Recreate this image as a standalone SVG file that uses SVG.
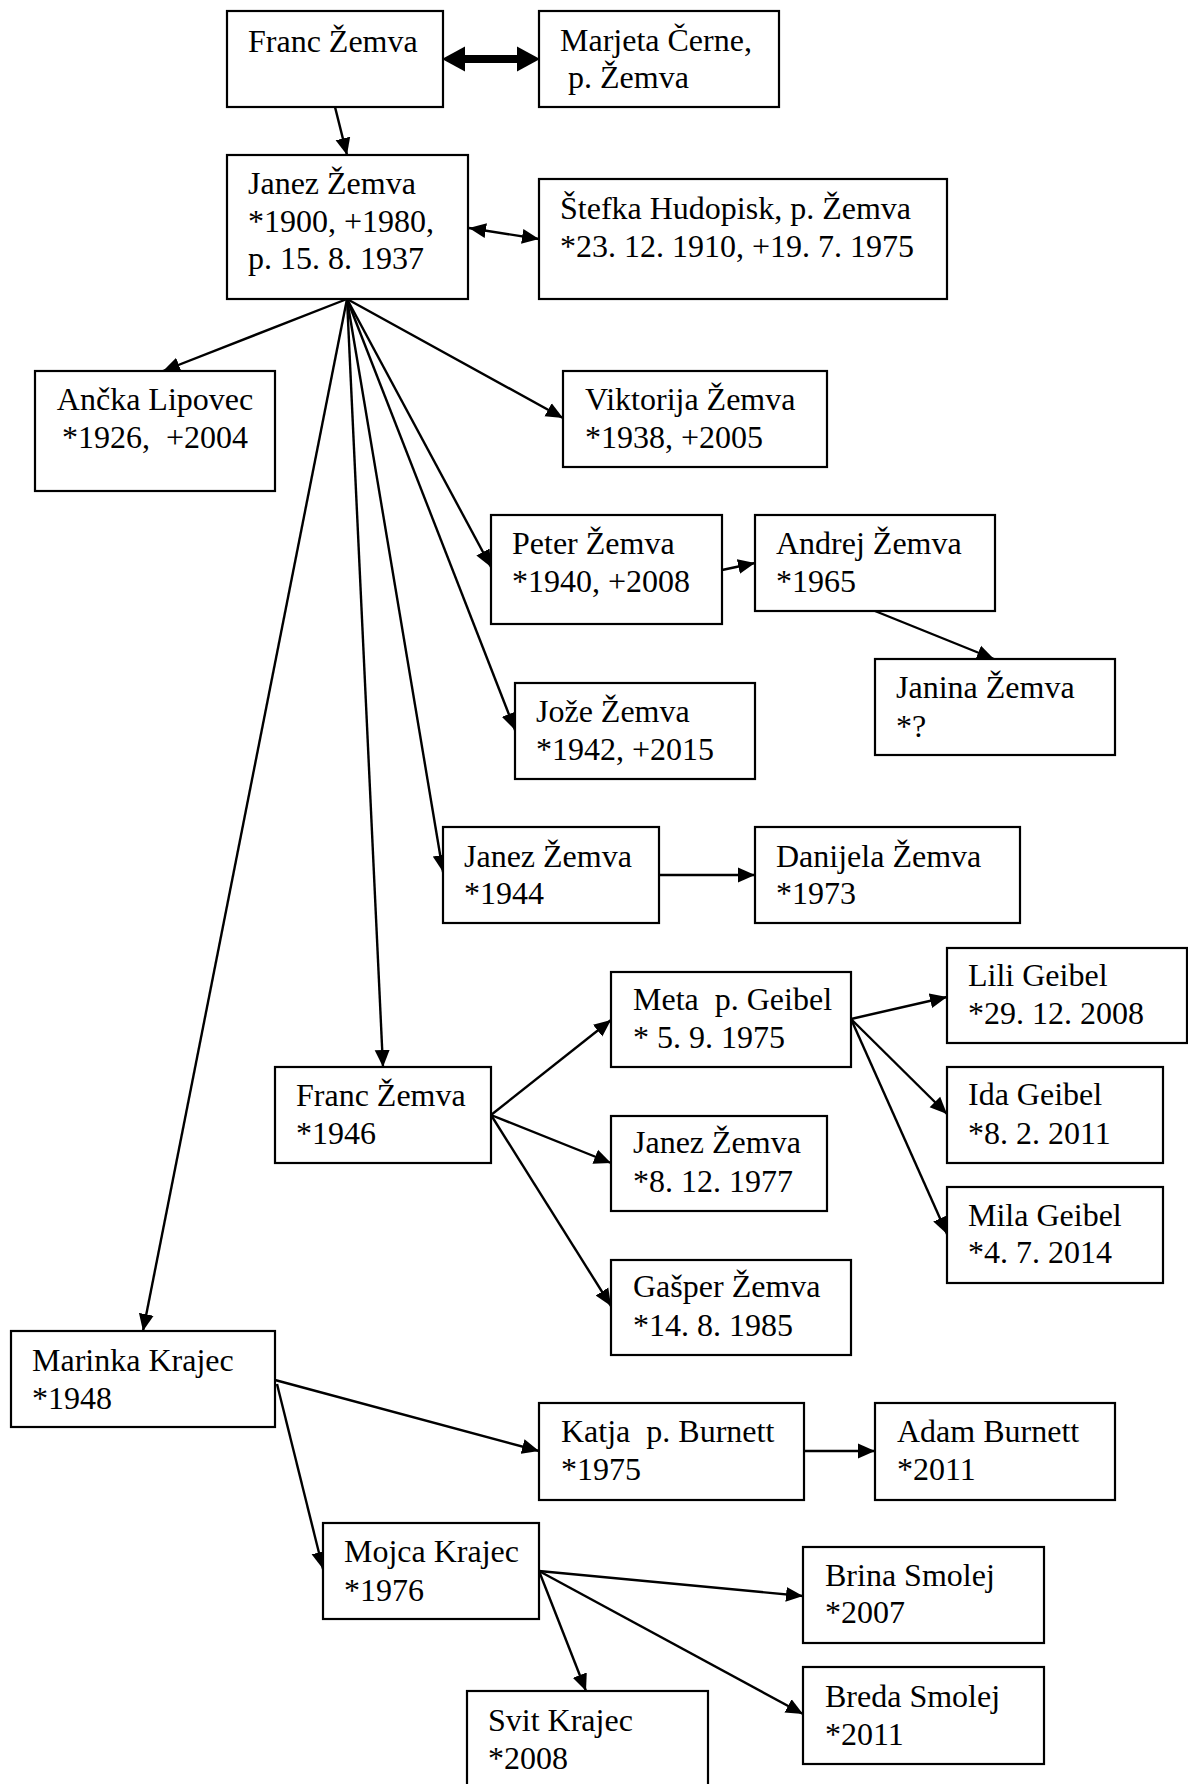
<svg xmlns="http://www.w3.org/2000/svg" width="1188" height="1784" viewBox="0 0 1188 1784" xml:space="preserve">
<style>
.box{fill:#fff;stroke:#000;stroke-width:2.2}
text{font-family:"Liberation Serif","Times New Roman",serif;font-size:32px;fill:#000;white-space:pre}
.c{stroke:#000;stroke-width:2.4;fill:none;marker-end:url(#ah)}
.cc{text-anchor:middle}
</style>
<defs>
<marker id="ah" markerUnits="userSpaceOnUse" markerWidth="18" markerHeight="16" refX="17" refY="7.5" orient="auto-start-reverse" viewBox="0 0 18 15"><path d="M0,0 L17,7.5 L0,15 z" fill="#000"/></marker>
<marker id="big" markerUnits="userSpaceOnUse" markerWidth="24" markerHeight="26" refX="1" refY="12.5" orient="auto-start-reverse" viewBox="0 0 24 25"><path d="M0,0 L23,12.5 L0,25 z" fill="#000"/></marker>
</defs>
<rect width="1188" height="1784" fill="#fff"/>
<g id="connectors">
<line x1="464" y1="59" x2="518" y2="59" stroke="#000" stroke-width="8" marker-start="url(#big)" marker-end="url(#big)"/>
<line class="c" x1="335" y1="107" x2="347" y2="155"/>
<line class="c" x1="469" y1="228" x2="539" y2="239" marker-start="url(#ah)"/>
<line class="c" x1="347" y1="299" x2="163" y2="371"/>
<line class="c" x1="347" y1="299" x2="563" y2="418"/>
<line class="c" x1="347" y1="299" x2="491" y2="567"/>
<line class="c" x1="347" y1="299" x2="515" y2="730"/>
<line class="c" x1="347" y1="299" x2="443" y2="872"/>
<line class="c" x1="347" y1="299" x2="383" y2="1067"/>
<line class="c" x1="347" y1="299" x2="143" y2="1331"/>
<line class="c" x1="722" y1="570" x2="755" y2="563"/>
<line class="c" x1="875" y1="611" x2="994" y2="659"/>
<line class="c" x1="659" y1="875" x2="755" y2="875"/>
<line class="c" x1="491" y1="1115" x2="611" y2="1020"/>
<line class="c" x1="491" y1="1115" x2="611" y2="1163"/>
<line class="c" x1="491" y1="1115" x2="611" y2="1306"/>
<line class="c" x1="851" y1="1019" x2="947" y2="997"/>
<line class="c" x1="851" y1="1019" x2="947" y2="1114"/>
<line class="c" x1="851" y1="1019" x2="947" y2="1234"/>
<line class="c" x1="275" y1="1380" x2="539" y2="1451"/>
<line class="c" x1="277" y1="1384" x2="323" y2="1569"/>
<line class="c" x1="804" y1="1451" x2="875" y2="1451"/>
<line class="c" x1="539" y1="1571" x2="803" y2="1596"/>
<line class="c" x1="539" y1="1571" x2="803" y2="1714"/>
<line class="c" x1="539" y1="1571" x2="586" y2="1691"/>
</g>
<g id="franc1"><rect class="box" x="227" y="11" width="216" height="96"/><text x="248" y="52">Franc Žemva</text></g>
<g id="marjeta"><rect class="box" x="539" y="11" width="240" height="96"/><text x="560" y="51">Marjeta Černe,</text><text x="560" y="88"> p. Žemva</text></g>
<g id="janez1"><rect class="box" x="227" y="155" width="241" height="144"/><text x="248" y="194">Janez Žemva</text><text x="248" y="232">*1900, +1980,</text><text x="248" y="269">p. 15. 8. 1937</text></g>
<g id="stefka"><rect class="box" x="539" y="179" width="408" height="120"/><text x="560" y="219">Štefka Hudopisk, p. Žemva</text><text x="560" y="257">*23. 12. 1910, +19. 7. 1975</text></g>
<g id="ancka"><rect class="box" x="35" y="371" width="240" height="120"/><text class="cc" x="155" y="410">Ančka Lipovec</text><text class="cc" x="155" y="448">*1926,  +2004</text></g>
<g id="viktorija"><rect class="box" x="563" y="371" width="264" height="96"/><text x="585" y="410">Viktorija Žemva</text><text x="585" y="448">*1938, +2005</text></g>
<g id="peter"><rect class="box" x="491" y="515" width="231" height="109"/><text x="512" y="554">Peter Žemva</text><text x="512" y="592">*1940, +2008</text></g>
<g id="andrej"><rect class="box" x="755" y="515" width="240" height="96"/><text x="776" y="554">Andrej Žemva</text><text x="776" y="592">*1965</text></g>
<g id="janina"><rect class="box" x="875" y="659" width="240" height="96"/><text x="896" y="698">Janina Žemva</text><text x="896" y="737">*?</text></g>
<g id="joze"><rect class="box" x="515" y="683" width="240" height="96"/><text x="536" y="722">Jože Žemva</text><text x="536" y="760">*1942, +2015</text></g>
<g id="janez44"><rect class="box" x="443" y="827" width="216" height="96"/><text x="464" y="867">Janez Žemva</text><text x="464" y="904">*1944</text></g>
<g id="danijela"><rect class="box" x="755" y="827" width="265" height="96"/><text x="776" y="867">Danijela Žemva</text><text x="776" y="904">*1973</text></g>
<g id="meta"><rect class="box" x="611" y="972" width="240" height="95"/><text x="633" y="1010">Meta  p. Geibel</text><text x="633" y="1048">* 5. 9. 1975</text></g>
<g id="lili"><rect class="box" x="947" y="948" width="240" height="95"/><text x="968" y="986">Lili Geibel</text><text x="968" y="1024">*29. 12. 2008</text></g>
<g id="franc46"><rect class="box" x="275" y="1067" width="216" height="96"/><text x="296" y="1106">Franc Žemva</text><text x="296" y="1144">*1946</text></g>
<g id="ida"><rect class="box" x="947" y="1067" width="216" height="96"/><text x="968" y="1105">Ida Geibel</text><text x="968" y="1144">*8. 2. 2011</text></g>
<g id="janez77"><rect class="box" x="611" y="1116" width="216" height="95"/><text x="633" y="1153">Janez Žemva</text><text x="633" y="1192">*8. 12. 1977</text></g>
<g id="mila"><rect class="box" x="947" y="1187" width="216" height="96"/><text x="968" y="1226">Mila Geibel</text><text x="968" y="1263">*4. 7. 2014</text></g>
<g id="gasper"><rect class="box" x="611" y="1260" width="240" height="95"/><text x="633" y="1297">Gašper Žemva</text><text x="633" y="1336">*14. 8. 1985</text></g>
<g id="marinka"><rect class="box" x="11" y="1331" width="264" height="96"/><text x="32" y="1371">Marinka Krajec</text><text x="32" y="1409">*1948</text></g>
<g id="katja"><rect class="box" x="539" y="1403" width="265" height="97"/><text x="561" y="1442">Katja  p. Burnett</text><text x="561" y="1480">*1975</text></g>
<g id="adam"><rect class="box" x="875" y="1403" width="240" height="97"/><text x="897" y="1442">Adam Burnett</text><text x="897" y="1480">*2011</text></g>
<g id="mojca"><rect class="box" x="323" y="1523" width="216" height="96"/><text x="344" y="1562">Mojca Krajec</text><text x="344" y="1601">*1976</text></g>
<g id="brina"><rect class="box" x="803" y="1547" width="241" height="96"/><text x="825" y="1586">Brina Smolej</text><text x="825" y="1623">*2007</text></g>
<g id="breda"><rect class="box" x="803" y="1667" width="241" height="97"/><text x="825" y="1707">Breda Smolej</text><text x="825" y="1745">*2011</text></g>
<g id="svit"><rect class="box" x="467" y="1691" width="241" height="110"/><text x="488" y="1731">Svit Krajec</text><text x="488" y="1769">*2008</text></g>
</svg>
